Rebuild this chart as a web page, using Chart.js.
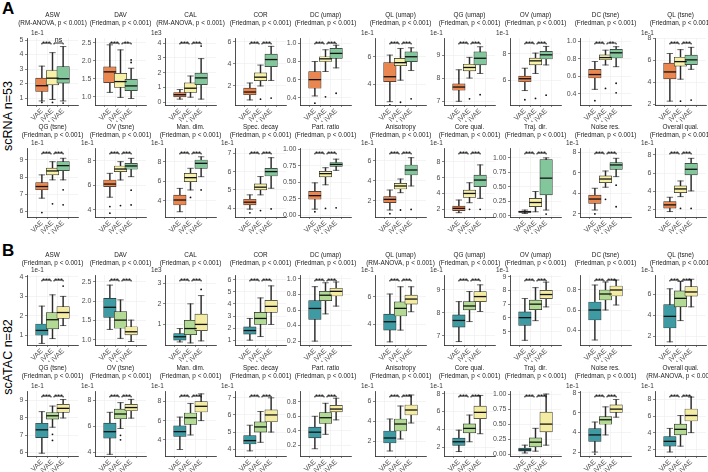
<!DOCTYPE html>
<html><head><meta charset="utf-8">
<script src="https://cdn.jsdelivr.net/npm/chart.js@4.4.1/dist/chart.umd.min.js"></script>
<style>
html,body{margin:0;padding:0;background:#fff;}
#wrap{position:relative;width:708px;height:472px;overflow:hidden;font-family:"Liberation Sans",Arial,sans-serif;color:#000;}
#wrap canvas{position:absolute;}
.letter{position:absolute;font-weight:bold;font-size:17px;line-height:17px;}
.side{position:absolute;width:110px;height:16px;line-height:16px;font-size:12.5px;text-align:center;transform:rotate(-90deg);white-space:nowrap;}
</style></head><body>
<div id="wrap">
  <div class="letter" style="left:2px;top:0px;">A</div>
  <div class="letter" style="left:2px;top:242px;">B</div>
  <div class="side" style="left:-47px;top:108px;">scRNA n=53</div>
  <div class="side" style="left:-47px;top:349px;">scATAC n=82</div>
</div>
<script>
const methods = ["VAE", "iVAE", "LiVAE"];

// ---------- Panel A : scRNA ----------
const scRNA_titles = ["ASW","DAV","CAL","COR","DC (umap)","QL (umap)","QG (umap)","OV (umap)","DC (tsne)","QL (tsne)",
  "QG (tsne)","OV (tsne)","Man. dim.","Spec. decay","Part. ratio","Anisotropy","Core qual.","Traj. dir.","Noise res.","Overall qual."];
const scRNA_tests = ["RM-ANOVA","Friedman","RM-ANOVA","Friedman","Friedman","Friedman","Friedman","Friedman","Friedman","Friedman",
  "Friedman","Friedman","Friedman","Friedman","Friedman","Friedman","Friedman","Friedman","Friedman","Friedman"];
const scRNA_exp = ["1e-1","","1e3","","","1e-1","1e-1","1e-1","","1e-1",
  "1e-1","1e-1","1e-1","1e-1","","1e-1","1e-1","","1e-1","1e-1"];
const scRNA_ticks = [["1","2","3","4","5"],["1.0","1.5","2.0","2.5"],["0","1","2","3","4"],["2","4","6"],["0.4","0.6","0.8","1.0"],
  ["4","6"],["7","8","9"],["6","8"],["0.4","0.6","0.8","1.0"],["2","4","6","8"],
  ["6","7","8","9"],["4","6","8"],["4","6","8"],["4","5","6","7"],["0.00","0.25","0.50","0.75","1.00"],
  ["2","4","6"],["2","4","6","8"],["0.00","0.25","0.50","0.75","1.00"],["2","4","6","8"],["2","4","6","8"]];
const scRNA_ranges = [[0.52,5.14],[0.77,2.63],[-0.2,4.35],[0.27,6.36],[0.32,1.06],[2.5,7.36],[6.83,9.74],[4.1,9.2],[0.27,1.04],[1.95,8.05],
  [5.67,9.7],[3.42,9.03],[2.33,9.4],[3.52,7.29],[-0.03,1.02],[0.37,7.27],[1.03,9.73],[-0.02,1.17],[1.7,8.42],[1.15,8.77]];
const scRNA_sig = [["***","ns"],["***","**"],["***","***"],["***","***"],["***","***"],["***","***"],["***","***"],["***","***"],["***","**"],["***","***"],
  ["***","***"],["***","***"],["***","***"],["***","***"],["***","***"],["***","***"],["***","***"],["***","***"],["***","***"],["***","***"]];

// [lower whisker, q1, median, q3, upper whisker, [outlying points]] for VAE, iVAE, LiVAE
const scRNA_ASW = [[0.8,1.45,1.85,2.37,3.2,[0.7]],[0.9,1.9,2.37,2.9,4.13,[0.7]],[0.8,2.03,2.33,3.17,4.55,[0.65]]];
const scRNA_DAV = [[1.12,1.39,1.69,1.83,2.44,[]],[0.98,1.26,1.42,1.65,2.3,[]],[0.95,1.17,1.3,1.48,1.79,[1.95,2.02]]];
const scRNA_CAL = [[0.2,0.35,0.5,0.65,0.85,[]],[0.33,0.66,0.94,1.31,1.77,[]],[0.2,1.18,1.64,1.97,2.95,[3.8]]];
const scRNA_COR = [[0.73,1.2,1.45,1.8,2.27,[]],[2.0,2.48,2.8,3.2,3.9,[0.8]],[2.5,3.75,4.4,4.9,5.6,[0.9]]];
const scRNA_DCumap = [[0.42,0.505,0.6,0.688,0.8,[0.34]],[0.69,0.8,0.83,0.853,0.93,[0.41]],[0.73,0.835,0.89,0.945,0.98,[0.45]]];
const scRNA_QLumap = [[2.74,4.19,4.55,5.57,6.12,[2.5]],[4.3,5.35,5.57,5.88,6.6,[2.7]],[5.0,5.64,6.0,6.36,6.65,[2.95]]];
const scRNA_QGumap = [[6.99,7.47,7.61,7.75,8.36,[]],[8.0,8.31,8.46,8.6,8.9,[7.1]],[8.2,8.57,8.86,9.14,9.36,[7.28]]];
const scRNA_OVumap = [[5.2,5.87,6.1,6.3,6.9,[4.5]],[6.5,7.15,7.46,7.67,8.05,[4.6]],[7.15,7.6,7.92,8.18,8.56,[4.85]]];
const scRNA_DCtsne = [[0.45,0.58,0.62,0.68,0.77,[0.32]],[0.73,0.79,0.815,0.846,0.9,[0.46]],[0.71,0.81,0.87,0.91,0.94,[0.52,0.41]]];
const scRNA_QLtsne = [[2.3,4.32,4.96,5.77,6.64,[]],[4.3,5.48,5.9,6.3,6.99,[2.3]],[5.2,5.63,6.06,6.5,7.2,[2.4]]];
const scRNA_QGtsne = [[6.77,7.26,7.45,7.68,8.13,[5.93]],[7.84,8.13,8.36,8.52,8.9,[6.44]],[7.84,8.38,8.67,8.9,9.1,[7.26,6.38]]];
const scRNA_OVtsne = [[5.03,5.89,6.1,6.43,6.97,[4.27,3.73]],[6.43,7.1,7.32,7.57,7.92,[4.35]],[6.7,7.3,7.57,7.78,8.19,[5.6,4.4]]];
const scRNA_ManDim = [[2.87,3.56,4.07,4.58,5.26,[]],[5.1,5.95,6.36,6.8,7.32,[4.34]],[6.46,7.32,7.83,8.17,8.5,[5.1]]];
const scRNA_SpecDecay = [[3.95,4.18,4.33,4.49,4.73,[3.75]],[4.73,5.0,5.15,5.33,5.73,[3.87]],[5.09,5.76,6.0,6.18,6.76,[3.96]]];
const scRNA_PartRatio = [[0.09,0.24,0.295,0.36,0.49,[0.05]],[0.46,0.58,0.63,0.665,0.72,[0.1]],[0.68,0.74,0.77,0.8,0.85,[0.11]]];
const scRNA_Aniso = [[1.07,1.8,2.13,2.4,3.07,[0.7]],[2.8,3.17,3.47,3.73,4.17,[1.07]],[3.47,4.57,5.07,5.57,6.3,[1.13]]];
const scRNA_CoreQual = [[1.57,1.82,2.12,2.41,3.17,[]],[2.83,3.5,4.0,4.43,5.35,[2.0]],[3.38,4.85,5.69,6.32,7.6,[2.0]]];
const scRNA_TrajDir = [[0.04,0.06,0.07,0.08,0.1,[]],[0.07,0.16,0.23,0.3,0.42,[]],[0.1,0.36,0.65,0.97,1.0,[0.03]]];
const scRNA_NoiseRes = [[2.38,3.03,3.45,3.84,4.5,[2.0]],[4.6,5.05,5.4,5.7,6.18,[3.42]],[5.63,6.34,6.77,7.0,7.42,[4.8,2.7]]];
const scRNA_Overall = [[1.75,2.12,2.49,2.85,3.33,[]],[3.4,3.85,4.25,4.58,5.13,[2.1]],[4.03,5.79,6.42,7.08,7.63,[2.1]]];
const scRNA_stats = [scRNA_ASW,scRNA_DAV,scRNA_CAL,scRNA_COR,scRNA_DCumap,scRNA_QLumap,scRNA_QGumap,scRNA_OVumap,scRNA_DCtsne,scRNA_QLtsne,
  scRNA_QGtsne,scRNA_OVtsne,scRNA_ManDim,scRNA_SpecDecay,scRNA_PartRatio,scRNA_Aniso,scRNA_CoreQual,scRNA_TrajDir,scRNA_NoiseRes,scRNA_Overall];

// ---------- Panel B : scATAC ----------
const scATAC_titles = scRNA_titles.slice();
const scATAC_tests = ["Friedman","Friedman","Friedman","Friedman","Friedman","RM-ANOVA","Friedman","Friedman","Friedman","Friedman",
  "Friedman","Friedman","Friedman","Friedman","Friedman","Friedman","Friedman","Friedman","Friedman","RM-ANOVA"];
const scATAC_exp = ["1e-1","","1e3","","","1e-1","1e-1","1e-1","","1e-1",
  "1e-1","1e-1","1e-1","1e-1","","1e-1","1e-1","","1e-1","1e-1"];
const scATAC_ticks = [["1","2","3","4"],["1.0","1.5","2.0","2.5"],["1","2","3"],["1","2","3","4","5","6"],["0.2","0.4","0.6","0.8","1.0"],
  ["4","6"],["7","8","9"],["5","6","7","8","9"],["0.4","0.6","0.8"],["2","4","6"],
  ["6","7","8","9"],["4","6","8"],["4","6","8"],["4","5","6","7"],["0.2","0.4","0.6","0.8"],
  ["2","4","6"],["2","4","6","8"],["0.00","0.25","0.50","0.75","1.00"],["2","4","6","8"],["2","4","6","8"]];
const scATAC_ranges = [[0.5,4.1],[0.87,2.67],[0,3.4],[0.6,6.4],[0.15,1.05],[2.47,7.59],[6.6,9.65],[4.03,9.12],[0.25,0.95],[1.2,7.8],
  [5.8,9.55],[3.7,8.73],[2.3,9.1],[3.6,7.4],[0.05,0.95],[0.5,7.0],[1.0,8.3],[-0.03,1.05],[1.6,8.2],[1.2,9.0]];
const scATAC_sig = Array.from({length:20}, () => ["***","***"]);

const scATAC_ASW = [[0.58,1.0,1.25,1.58,2.5,[]],[0.83,1.33,1.8,2.17,3.08,[]],[1.5,1.87,2.17,2.47,3.0,[3.53]]];
const scATAC_DAV = [[1.27,1.58,1.84,2.07,2.41,[]],[1.04,1.3,1.51,1.73,2.03,[]],[0.96,1.13,1.21,1.34,1.51,[]]];
const scATAC_CAL = [[0.15,0.24,0.4,0.56,0.8,[]],[0.1,0.5,0.8,1.2,2.0,[]],[0.2,0.7,1.0,1.5,2.4,[2.7]]];
const scATAC_COR = [[1.0,1.5,1.8,2.1,2.8,[]],[1.3,2.3,2.8,3.3,4.5,[]],[2.3,3.3,3.8,4.3,5.5,[]]];
const scATAC_DCumap = [[0.2,0.48,0.62,0.72,0.9,[]],[0.55,0.72,0.79,0.84,0.95,[]],[0.65,0.78,0.84,0.88,0.96,[]]];
const scATAC_QLumap = [[2.7,3.56,4.17,4.73,6.2,[]],[3.56,4.59,5.15,5.63,6.73,[]],[4.9,5.46,5.83,6.12,6.73,[]]];
const scATAC_QGumap = [[6.75,7.38,7.67,7.91,8.49,[]],[7.62,8.13,8.3,8.49,8.93,[]],[8.06,8.49,8.71,8.93,9.22,[]]];
const scATAC_OVumap = [[4.37,5.46,6.02,6.44,7.41,[]],[5.8,6.6,7.0,7.3,8.2,[]],[6.8,7.4,7.7,8.0,8.6,[]]];
const scATAC_DCtsne = [[0.3,0.5,0.6,0.68,0.85,[]],[0.6,0.7,0.76,0.8,0.88,[]],[0.65,0.74,0.8,0.84,0.9,[]]];
const scATAC_QLtsne = [[1.5,2.8,3.9,5.0,6.5,[]],[3.5,4.8,5.6,6.3,7.2,[]],[4.8,5.8,6.2,6.7,7.4,[]]];
const scATAC_QGtsne = [[5.96,6.86,7.31,7.69,8.36,[]],[7.46,7.93,8.12,8.31,8.68,[7.05,6.7]],[7.99,8.31,8.55,8.78,9.06,[]]];
const scATAC_OVtsne = [[3.83,5.08,5.58,6.25,7.08,[]],[5.83,6.58,6.95,7.33,7.83,[5.3,4.95]],[6.63,7.2,7.45,7.7,8.08,[]]];
const scATAC_ManDim = [[2.98,4.34,4.85,5.46,6.37,[]],[4.5,5.6,6.3,6.8,7.8,[]],[6.0,6.9,7.5,8.0,8.8,[]]];
const scATAC_SpecDecay = [[3.9,4.3,4.5,4.8,5.4,[]],[4.4,5.0,5.3,5.6,6.2,[]],[5.0,5.6,6.0,6.3,7.0,[]]];
const scATAC_PartRatio = [[0.15,0.3,0.38,0.45,0.6,[]],[0.35,0.5,0.58,0.65,0.78,[]],[0.55,0.66,0.7,0.75,0.85,[]]];
const scATAC_Aniso = [[1.0,1.8,2.3,3.0,4.2,[]],[2.2,3.0,3.7,4.2,5.5,[]],[3.8,4.6,5.1,5.6,6.6,[]]];
const scATAC_CoreQual = [[1.5,2.2,2.6,3.0,3.9,[]],[2.6,3.6,4.1,4.6,5.6,[]],[3.5,5.2,5.9,6.6,7.8,[]]];
const scATAC_TrajDir = [[0.02,0.05,0.07,0.1,0.15,[]],[0.05,0.12,0.2,0.27,0.43,[]],[0.15,0.37,0.5,0.7,1.0,[]]];
const scATAC_NoiseRes = [[2.0,3.08,3.74,4.39,5.05,[1.8]],[3.74,4.82,5.28,5.61,6.59,[]],[5.54,6.03,6.36,6.79,7.34,[]]];
const scATAC_Overall = [[1.68,2.38,2.96,3.54,4.51,[]],[2.38,3.74,4.4,5.02,6.06,[]],[4.0,5.4,6.06,6.84,8.27,[]]];
const scATAC_stats = [scATAC_ASW,scATAC_DAV,scATAC_CAL,scATAC_COR,scATAC_DCumap,scATAC_QLumap,scATAC_QGumap,scATAC_OVumap,scATAC_DCtsne,scATAC_QLtsne,
  scATAC_QGtsne,scATAC_OVtsne,scATAC_ManDim,scATAC_SpecDecay,scATAC_PartRatio,scATAC_Aniso,scATAC_CoreQual,scATAC_TrajDir,scATAC_NoiseRes,scATAC_Overall];

// ---------- styling / layout ----------
const fillsA = ["#EA8650","#F7F1A8","#83C69C"];
const fillsB = ["#3E9BA3","#B3DA95","#F4ECA3"];
const FONT = '"Liberation Sans", Arial, sans-serif';
const FS = 6.4, TS = 7;
const colsL = [27, 95, 165, 235, 300, 375, 444, 510, 580, 655];
const PW = 51, YW = 17, CW = 85, XH = 17;
const rows = [
  {top:11, pad:11, h:111},
  {top:123, pad:9, h:111},
  {top:251, pad:8, h:111},
  {top:364, pad:11, h:109}
];

const extras = {
  id: 'extras',
  afterDatasetsDraw(chart, args, o) {
    const ctx = chart.ctx, ca = chart.chartArea, xs = chart.scales.x;
    ctx.save();
    if (o.exp) {
      ctx.font = FS + 'px ' + FONT;
      ctx.fillStyle = '#333';
      ctx.textAlign = 'left';
      ctx.textBaseline = 'middle';
      const ex = o.col === 0 ? ca.left + 4 : ca.left - 14;
      ctx.fillText(o.exp, ex, ca.top - 5);
    }
    const y = ca.top + 5;
    ctx.strokeStyle = '#111';
    ctx.lineWidth = 0.9;
    o.sig.forEach((lab, k) => {
      const x1 = xs.getPixelForValue(k) + (k === 1 ? 1.5 : 0);
      const x2 = xs.getPixelForValue(k + 1) - (k === 0 ? 1.5 : 0);
      ctx.beginPath();
      ctx.moveTo(x1, y + 1.5); ctx.lineTo(x1, y); ctx.lineTo(x2, y); ctx.lineTo(x2, y + 1.5);
      ctx.stroke();
      ctx.fillStyle = '#111';
      ctx.font = '7px ' + FONT;
      ctx.textAlign = 'center';
      ctx.textBaseline = 'alphabetic';
      ctx.fillText(lab, (x1 + x2) / 2, lab.indexOf('*') >= 0 ? y + 3 : y - 0.8);
    });
    ctx.restore();
  }
};
Chart.register(extras);

const wrap = document.getElementById('wrap');

function build(panel, i, title, test, exp, ticks, range, sig, stats, fills) {
  const row = panel * 2 + Math.floor(i / 10), col = i % 10;
  const R = rows[row];
  const L = colsL[col];
  const cv = document.createElement('canvas');
  cv.width = CW; cv.height = R.h;
  cv.style.left = (L - YW) + 'px'; cv.style.top = R.top + 'px';
  cv.style.width = CW + 'px'; cv.style.height = R.h + 'px';
  wrap.appendChild(cv);
  const tickVals = ticks.map(Number);
  const dk = '#2b2b2b';
  const tickFont = {family: FONT, size: TS};
  new Chart(cv, {
    type: 'bar',
    data: {datasets: [
      {type:'scatter', xAxisID:'x', yAxisID:'y', data: stats.flatMap((s,k) => s[5].map(v => ({x:k, y:v}))),
        pointRadius:0.9, pointBackgroundColor:'#111', backgroundColor:'#111', pointBorderWidth:0, order:1},
      {type:'scatter', xAxisID:'x', yAxisID:'y', data: stats.map((s,k) => ({x:k, y:s[2]})),
        pointStyle:'line', pointRadius:6.2, borderColor:'#111', pointBorderColor:'#111', pointBorderWidth:1.3, order:2},
      {type:'bar', xAxisID:'x', yAxisID:'y', grouped:false, data: stats.map((s,k) => ({x:k, y:[s[1], s[3]]})),
        backgroundColor: fills, borderColor: dk, borderWidth:0.7, borderSkipped:false, barThickness:12.5, order:3},
      {type:'scatter', xAxisID:'x', yAxisID:'y', data: stats.flatMap((s,k) => [{x:k, y:s[0]}, {x:k, y:s[4]}]),
        pointStyle:'line', pointRadius:3.2, borderColor:dk, pointBorderColor:dk, pointBorderWidth:0.7, order:4},
      {type:'bar', xAxisID:'x', yAxisID:'y', grouped:false, data: stats.map((s,k) => ({x:k, y:[s[0], s[4]]})),
        backgroundColor: dk, borderWidth:0, barThickness:0.8, order:5}
    ]},
    options: {
      responsive:false, animation:false, devicePixelRatio:1, events:[],
      layout:{padding:0},
      plugins: {
        legend:{display:false}, tooltip:{enabled:false},
        title:{display:true, text:[title, '(' + test + ', p < 0.001)'],
          font:{family:FONT, size:FS, weight:'normal', lineHeight:1.25}, color:'#1a1a1a',
          padding:{top:0, bottom:R.pad}},
        extras:{exp: exp, col: col, sig: sig}
      },
      scales: {
        x: {type:'linear', position:'bottom', min:-0.6, max:2.6,
          afterBuildTicks: s => { s.ticks = [0,1,2].map(v => ({value:v})); },
          afterFit: s => { s.height = XH; },
          ticks:{autoSkip:false, minRotation:45, maxRotation:45, padding:0, font:tickFont, color:'#4d4d4d',
            callback:(v, idx) => methods[idx]},
          grid:{color:'#ececec', lineWidth:0.6, tickLength:2, tickColor:'#333', tickWidth:0.6},
          border:{color:'#222', width:0.8}
        },
        y: {type:'linear', position:'left', min:range[0], max:range[1],
          afterBuildTicks: s => { s.ticks = tickVals.map(v => ({value:v})); },
          afterFit: s => { s.width = YW; },
          ticks:{font:tickFont, color:'#4d4d4d', padding:1.5, callback:(v, idx) => ticks[idx]},
          grid:{color:'#ececec', lineWidth:0.6, tickLength:2, tickColor:'#333', tickWidth:0.6},
          border:{color:'#222', width:0.8}
        },
        yr: {type:'linear', position:'right', display:true,
          afterFit: s => { s.width = CW - YW - PW; },
          ticks:{display:false}, grid:{display:false, drawTicks:false}, border:{display:false}
        }
      }
    }
  });
}

for (let i = 0; i < 20; i++) {
  build(0, i, scRNA_titles[i], scRNA_tests[i], scRNA_exp[i], scRNA_ticks[i], scRNA_ranges[i], scRNA_sig[i], scRNA_stats[i], fillsA);
  build(1, i, scATAC_titles[i], scATAC_tests[i], scATAC_exp[i], scATAC_ticks[i], scATAC_ranges[i], scATAC_sig[i], scATAC_stats[i], fillsB);
}
</script>
</body></html>
